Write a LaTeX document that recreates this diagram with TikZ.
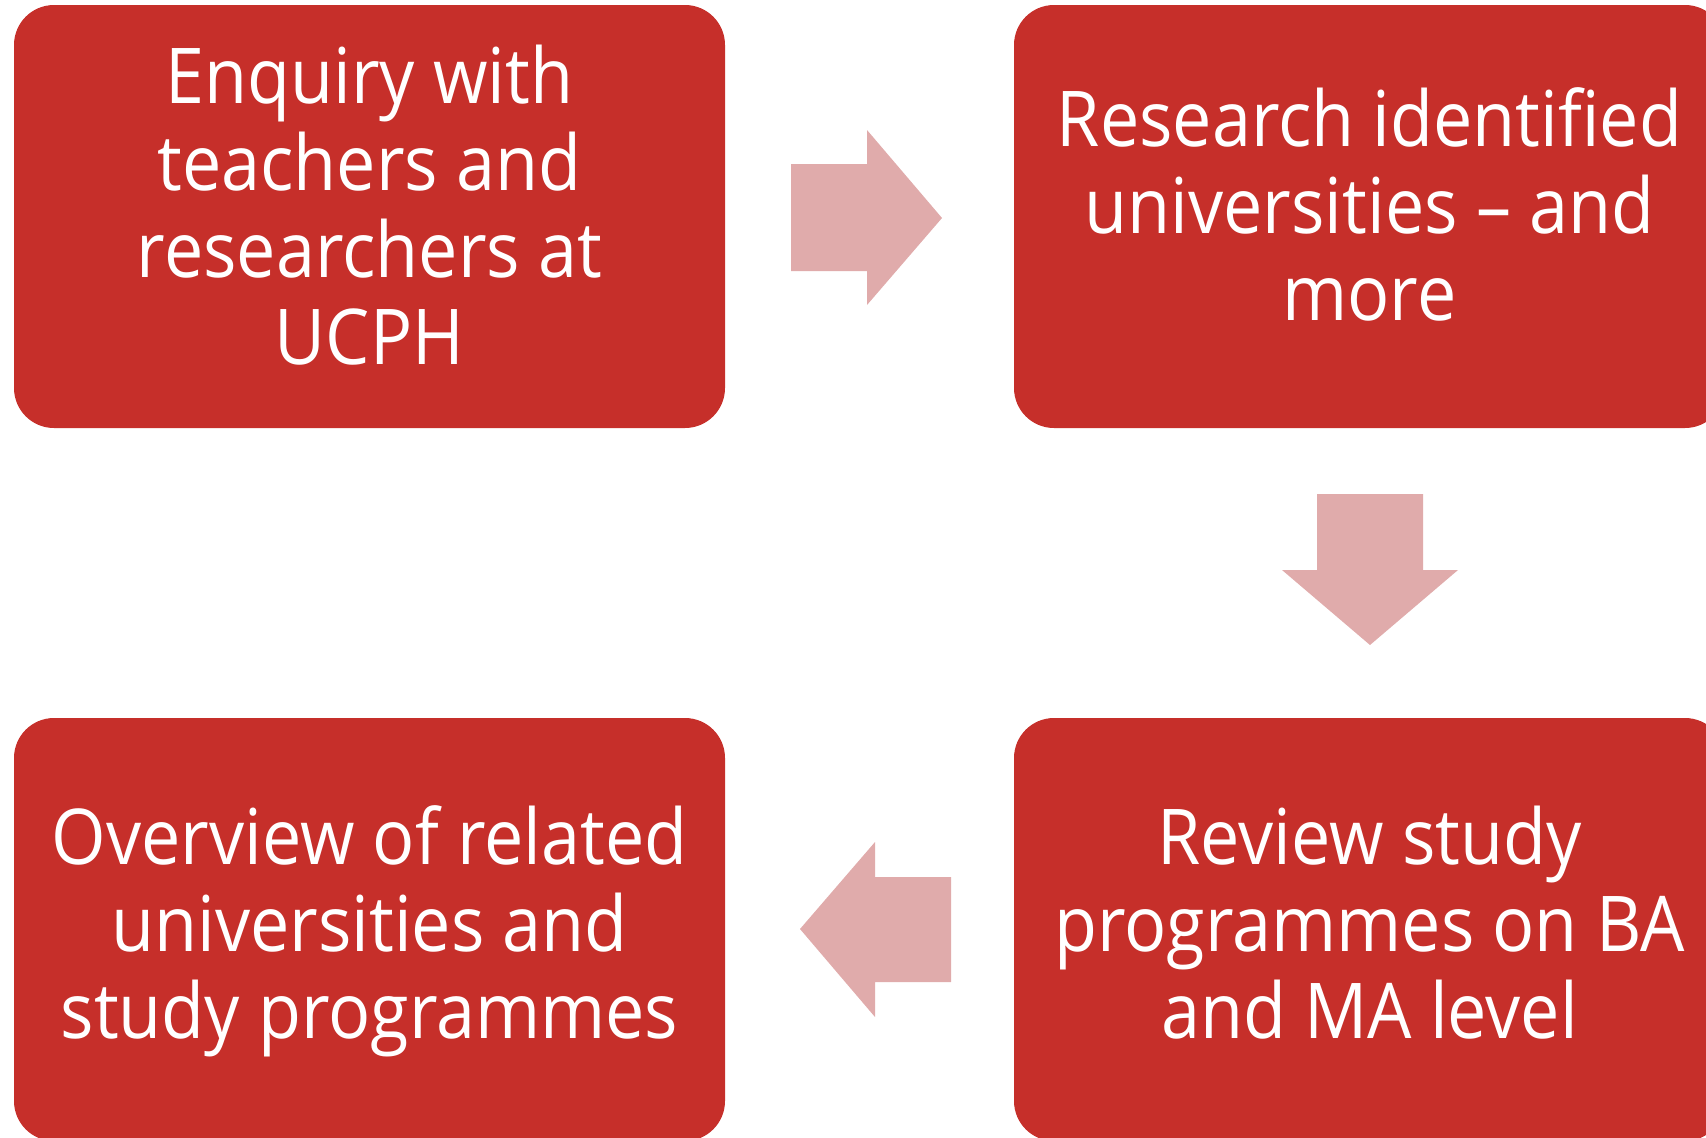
\documentclass[tikz,border=0pt]{standalone}
\usepackage{fontspec}
\setmainfont{Open Sans}[FakeStretch=0.91]
\definecolor{boxred}{HTML}{C62F2A}
\definecolor{arrowpink}{HTML}{E0ABAB}
\begin{document}
\begin{tikzpicture}[x=1pt,y=-1pt,
  stepbox/.style={rectangle, rounded corners=40pt, fill=boxred, text=white,
    minimum width=711pt, minimum height=423pt, inner sep=0pt, align=center,
    font=\fontsize{77}{87}\selectfont},
  blockarrow/.style={fill=arrowpink, draw=none}]
\useasboundingbox (0,0) rectangle (1706,1138);
\clip (0,0) rectangle (1706,1138);
\node[stepbox] (b1) at (369.5,216.5) {\strut Enquiry with\\teachers and\\researchers at\\\strut UCPH};
\node[stepbox] (b2) at (1369.5,216.5) {\strut Research identified\\universities -- and\\\strut more};
\node[stepbox, text depth=0pt] (b4) at (1369.5,929.5) {};
\node[stepbox, text depth=0pt] (b3) at (369.5,929.5) {};
\node[align=center, text=white, font=\fontsize{77}{87}\selectfont, inner sep=0pt] (t4) at ([yshift=-5pt]b4.center) {\strut Review study\\programmes on BA\\\strut and MA level};
\node[align=center, text=white, font=\fontsize{77}{87}\selectfont, inner sep=0pt] (t3) at ([yshift=-5pt]b3.center) {\strut Overview of related\\universities and\\\strut study programmes};
% right arrow
\fill[blockarrow] (791,164) -- (867,164) -- (867,130) -- (942,218) -- (867,305) -- (867,271) -- (791,271) -- cycle;
% down arrow
\fill[blockarrow] (1317,494) -- (1423,494) -- (1423,570) -- (1458,570) -- (1370,645) -- (1282,570) -- (1317,570) -- cycle;
% left arrow
\fill[blockarrow] (951,877) -- (875,877) -- (875,842) -- (800,929) -- (875,1017) -- (875,982) -- (951,982) -- cycle;
\end{tikzpicture}
\end{document}
